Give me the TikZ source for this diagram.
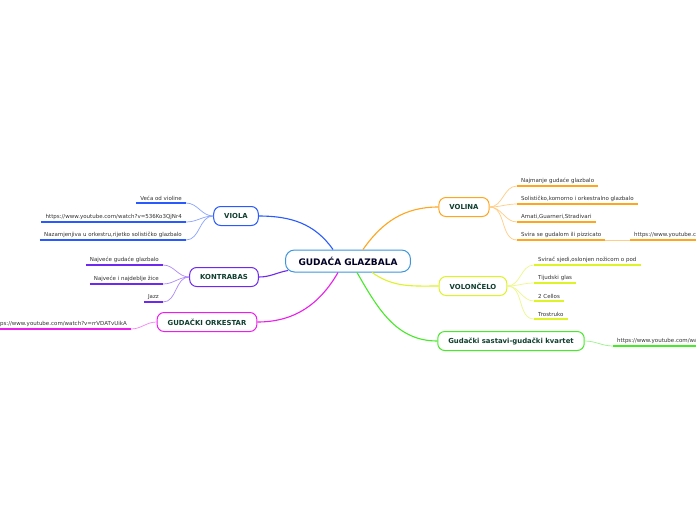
\documentclass[tikz,border=0pt]{standalone}
\usepackage{fontspec}
\setmainfont{DejaVu Sans}
\usetikzlibrary{calc}

\definecolor{czentrum}{RGB}{60,150,220}
\definecolor{cviola}{RGB}{40,90,255}
\definecolor{ckontra}{RGB}{110,40,240}
\definecolor{corkes}{RGB}{235,30,235}
\definecolor{cvolina}{RGB}{255,165,30}
\definecolor{ccelo}{RGB}{222,242,40}
\definecolor{ckvart}{RGB}{70,235,40}
\definecolor{knotentext}{RGB}{16,62,48}
\definecolor{blatttext}{RGB}{50,50,50}

\tikzset{
    thema/.style={draw=#1, line width=1pt, rounded corners=7pt, fill=white,
        minimum height=19pt, inner xsep=10.5pt, text=knotentext,
        font=\fontsize{6.9}{7}\selectfont\bfseries},
    blatt/.style={inner xsep=4pt, inner ysep=2.5pt, text=blatttext,
        font=\fontsize{5.5}{6}\selectfont},
    strich/.style={draw=#1, line width=1.6pt},
    ast/.style={draw=#1, line width=1.1pt},
    zweig/.style={draw=#1!55, line width=0.7pt},
}

\begin{document}
\begin{tikzpicture}[x=1pt, y=-1pt]

  % Rahmen
  \clip (0,0) rectangle (696,520);
  \fill[white] (0,0) rectangle (696,520);

  % Zentrum
  \node[draw=czentrum, line width=1pt, rounded corners=9pt, fill=white,
        minimum height=22pt, inner xsep=13pt, text=black!75!blue!60!black,
        font=\fontsize{9}{10}\selectfont\bfseries] (zentrum) at (348,261) {GUDAĆA GLAZBALA};

  % Hauptknoten
  \node[thema=cviola] (viola) at (236,216) {VIOLA};
  \node[thema=ckontra] (kontrabas) at (224,277) {KONTRABAS};
  \node[thema=corkes] (orkestar) at (207,322) {GUDAČKI ORKESTAR};
  \node[thema=cvolina] (volina) at (464,207) {VOLINA};
  \node[thema=ccelo] (violoncelo) at (473,286) {VOLONČELO};
  \node[thema=ckvart] (kvartet) at (511,341) {Gudački sastavi-gudački kvartet};

  % Aeste vom Zentrum
  \draw[ast=cviola] ($(zentrum.north)+(-15,0)$) to[out=125, in=0] (viola.east);
  \draw[ast=ckontra] ($(zentrum.south west)+(3,-2)$) to[out=190, in=0] (kontrabas.east);
  \draw[ast=corkes] ($(zentrum.south)+(-10,0)$) to[out=240, in=0] (orkestar.east);
  \draw[ast=cvolina] ($(zentrum.north)+(15,0)$) to[out=55, in=180] (volina.west);
  \draw[ast=ccelo] ($(zentrum.south)+(24,0)$) to[out=-35, in=180] (violoncelo.west);
  \draw[ast=ckvart] ($(zentrum.south)+(9,0)$) to[out=-60, in=180] (kvartet.west);

  % VIOLA
  \node[blatt, anchor=south east] (viola1) at (186,203) {Veća od violine};
  \node[blatt, anchor=south east] (viola2) at (186,222) {https://www.youtube.com/watch?v=536Ko3QjNr4};
  \node[blatt, anchor=south east] (viola3) at (186,240) {Nazamjenjiva u orkestru,rijetko solističko glazbalo};
  \foreach \n in {viola1, viola2, viola3} {
    \draw[zweig=cviola] (viola.west) to[out=180, in=0] (\n.south east);
    \draw[strich=cviola] (\n.south west) -- (\n.south east);
  }

  % KONTRABAS
  \node[blatt, anchor=south east] (kontra1) at (163,265) {Najveće gudaće glazbalo};
  \node[blatt, anchor=south east] (kontra2) at (163,284) {Najveće i najdeblje žice};
  \node[blatt, anchor=south east] (kontra3) at (163,302) {Jazz};
  \foreach \n in {kontra1, kontra2, kontra3} {
    \draw[zweig=ckontra] (kontrabas.west) to[out=180, in=0] (\n.south east);
    \draw[strich=ckontra] (\n.south west) -- (\n.south east);
  }

  % GUDACKI ORKESTAR
  \node[blatt, anchor=south east] (orkes1) at (131,329) {https://www.youtube.com/watch?v=rrVDATvUikA};
  \draw[zweig=corkes] (orkestar.west) to[out=180, in=0] (orkes1.south east);
  \draw[strich=corkes] (orkes1.south west) -- (orkes1.south east);

  % VOLINA
  \node[blatt, anchor=south west] (volina1) at (517,186) {Najmanje gudaće glazbalo};
  \node[blatt, anchor=south west] (volina2) at (517,204) {Solističko,komorno i orkestralno glazbalo};
  \node[blatt, anchor=south west] (volina3) at (517,222) {Amati,Guarneri,Stradivari};
  \node[blatt, anchor=south west] (volina4) at (517,240) {Svira se gudalom ili pizzicato};
  \foreach \n in {volina1, volina2, volina3, volina4} {
    \draw[zweig=cvolina] (volina.east) to[out=0, in=180] (\n.south west);
    \draw[strich=cvolina] (\n.south west) -- (\n.south east);
  }
  \node[blatt, anchor=south west] (volina5) at (630,240) {https://www.youtube.com/watch};
  \draw[zweig=cvolina] (volina4.south east) -- (volina5.south west);
  \draw[strich=cvolina] (volina5.south west) -- (volina5.south east);

  % VIOLONCELO
  \node[blatt, anchor=south west] (celo1) at (534,265) {Svirač sjedi,oslonjen nožicom o pod};
  \node[blatt, anchor=south west] (celo2) at (534,283) {Tijudski glas};
  \node[blatt, anchor=south west] (celo3) at (534,301) {2 Cellos};
  \node[blatt, anchor=south west] (celo4) at (534,319) {Trostruko};
  \foreach \n in {celo1, celo2, celo3, celo4} {
    \draw[zweig=ccelo] (violoncelo.east) to[out=0, in=180] (\n.south west);
    \draw[strich=ccelo] (\n.south west) -- (\n.south east);
  }

  % Kvartet
  \node[blatt, anchor=south west] (kvart1) at (613,346) {https://www.youtube.com/watch};
  \draw[zweig=ckvart] (kvartet.east) to[out=0, in=180] (kvart1.south west);
  \draw[strich=ckvart] (kvart1.south west) -- (kvart1.south east);

\end{tikzpicture}
\end{document}
